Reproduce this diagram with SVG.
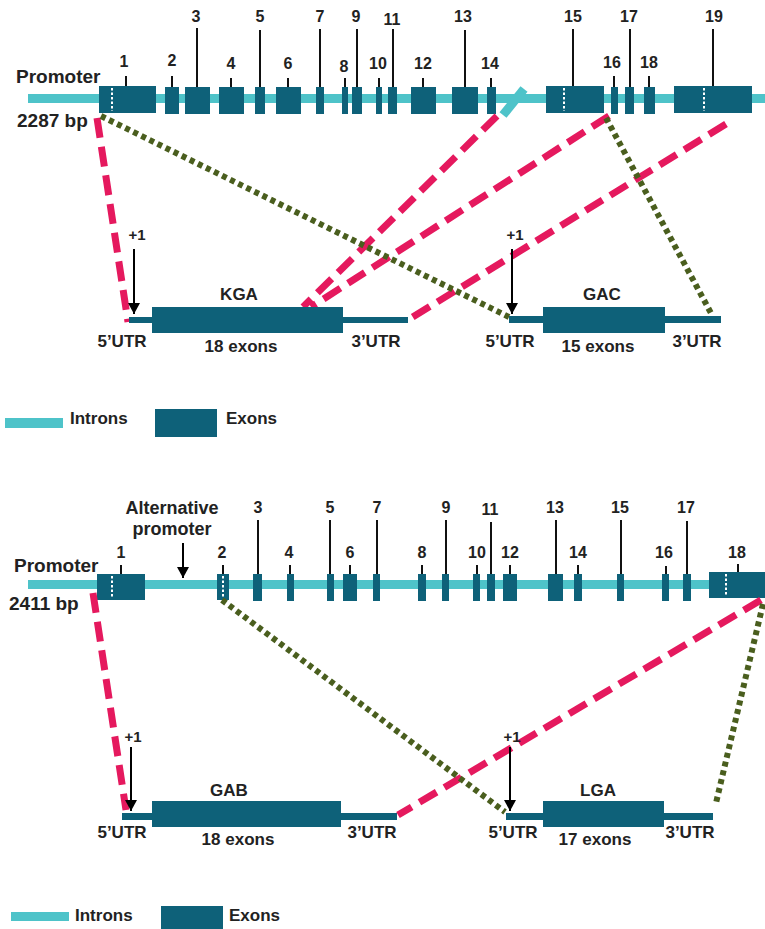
<svg xmlns="http://www.w3.org/2000/svg" width="765" height="929" viewBox="0 0 765 929">
<style>
text{font-family:"Liberation Sans",Arial,sans-serif;font-weight:bold;fill:#222}
.n{font-size:16px;text-anchor:middle}
.t{font-size:17px}
.c{text-anchor:middle}
.intron{fill:#4ec3c9}
.exon{fill:#0e6179}
.tick{stroke:#111;stroke-width:2}
.wd{stroke:#fff;stroke-width:2;stroke-dasharray:2.5 2}
.pink{stroke:#e5195e;stroke-width:7;stroke-dasharray:20 9;fill:none}
.green{stroke:#4a5e1e;stroke-width:6;stroke-dasharray:5 4;fill:none}
.arr{stroke:#000;stroke-width:2}
</style>
<defs>
<marker id="ah" markerWidth="11" markerHeight="12" refX="11" refY="6" orient="auto" markerUnits="userSpaceOnUse" viewBox="0 0 11 12">
<path d="M0,0 L11,6 L0,12 Z" fill="#000"/>
</marker>
</defs>
<rect width="765" height="929" fill="#fff"/>

<!-- ===== Top gene ===== -->
<g id="gene1">
<rect class="intron" x="28" y="94" width="737" height="9"/>
<line x1="503" y1="115" x2="524" y2="89" stroke="#4ec3c9" stroke-width="9"/>
<text class="t" x="16" y="83" style="font-size:19px">Promoter</text>
<text class="t" x="17" y="127" style="font-size:19px">2287 bp</text>
<g id="g1e1"><rect class="exon" x="99" y="86" width="57" height="27"/><line class="wd" x1="112" y1="88" x2="112" y2="111"/><line class="tick" x1="126" y1="76" x2="126" y2="86"/><text class="n" x="124" y="67">1</text></g>
<g id="g1e2"><rect class="exon" x="165" y="87" width="14" height="27"/><line class="tick" x1="172" y1="76" x2="172" y2="87"/><text class="n" x="172" y="66">2</text></g>
<g id="g1e3"><rect class="exon" x="185" y="87" width="25" height="27"/><line class="tick" x1="197" y1="28" x2="197" y2="87"/><text class="n" x="196" y="22">3</text></g>
<g id="g1e4"><rect class="exon" x="219" y="87" width="25" height="27"/><line class="tick" x1="231" y1="78" x2="231" y2="87"/><text class="n" x="231" y="69">4</text></g>
<g id="g1e5"><rect class="exon" x="255" y="87" width="10" height="27"/><line class="tick" x1="260" y1="30" x2="260" y2="87"/><text class="n" x="260" y="22">5</text></g>
<g id="g1e6"><rect class="exon" x="276" y="87" width="25" height="27"/><line class="tick" x1="288" y1="78" x2="288" y2="87"/><text class="n" x="288" y="69">6</text></g>
<g id="g1e7"><rect class="exon" x="316" y="87" width="8" height="27"/><line class="tick" x1="320" y1="29" x2="320" y2="87"/><text class="n" x="320" y="22">7</text></g>
<g id="g1e8"><rect class="exon" x="342" y="87" width="6" height="27"/><line class="tick" x1="345" y1="78" x2="345" y2="87"/><text class="n" x="344" y="72">8</text></g>
<g id="g1e9"><rect class="exon" x="352" y="87" width="10" height="27"/><line class="tick" x1="357" y1="29" x2="357" y2="87"/><text class="n" x="356" y="22">9</text></g>
<g id="g1e10"><rect class="exon" x="376" y="87" width="6" height="27"/><line class="tick" x1="379" y1="78" x2="379" y2="87"/><text class="n" x="378" y="69">10</text></g>
<g id="g1e11"><rect class="exon" x="388" y="87" width="9" height="27"/><line class="tick" x1="393" y1="29" x2="393" y2="87"/><text class="n" x="392" y="25">11</text></g>
<g id="g1e12"><rect class="exon" x="411" y="87" width="25" height="27"/><line class="tick" x1="423" y1="78" x2="423" y2="87"/><text class="n" x="423" y="69">12</text></g>
<g id="g1e13"><rect class="exon" x="452" y="87" width="26" height="27"/><line class="tick" x1="465" y1="30" x2="465" y2="87"/><text class="n" x="463" y="22">13</text></g>
<g id="g1e14"><rect class="exon" x="487" y="87" width="9" height="27"/><line class="tick" x1="491" y1="78" x2="491" y2="87"/><text class="n" x="490" y="69">14</text></g>
<g id="g1e15"><rect class="exon" x="546" y="86" width="58" height="27"/><line class="wd" x1="564" y1="88" x2="564" y2="111"/><line class="tick" x1="573" y1="29" x2="573" y2="86"/><text class="n" x="573" y="22">15</text></g>
<g id="g1e16"><rect class="exon" x="611" y="87" width="7" height="27"/><line class="tick" x1="614" y1="76" x2="614" y2="87"/><text class="n" x="612" y="68">16</text></g>
<g id="g1e17"><rect class="exon" x="625" y="87" width="9" height="27"/><line class="tick" x1="630" y1="29" x2="630" y2="87"/><text class="n" x="629" y="22">17</text></g>
<g id="g1e18"><rect class="exon" x="644" y="87" width="11" height="27"/><line class="tick" x1="649" y1="76" x2="649" y2="87"/><text class="n" x="649" y="68">18</text></g>
<g id="g1e19"><rect class="exon" x="674" y="86" width="78" height="27"/><line class="wd" x1="704" y1="88" x2="704" y2="111"/><line class="tick" x1="713" y1="29" x2="713" y2="86"/><text class="n" x="714" y="22">19</text></g>
</g>

<g id="connectors1">
<line class="pink" x1="97" y1="118" x2="128" y2="322"/>
<line class="pink" x1="497" y1="116" x2="303" y2="307"/>
<line class="pink" x1="609" y1="116" x2="311" y2="307"/>
<line class="pink" x1="726" y1="124" x2="408" y2="320"/>
<line class="green" x1="101" y1="116" x2="509" y2="317"/>
<line class="green" x1="606" y1="118" x2="712" y2="315"/>
</g>

<g id="KGA">
<rect class="exon" x="129" y="317" width="279" height="6"/>
<rect class="exon" x="152" y="307" width="191" height="26"/>
<line class="arr" x1="134" y1="249" x2="134" y2="314" marker-end="url(#ah)"/>
<text class="t c" x="137" y="240" style="font-size:15px">+1</text>
<text class="t c" x="239" y="300">KGA</text>
<text class="t c" x="122" y="347">5’UTR</text>
<text class="t c" x="241" y="352">18 exons</text>
<text class="t c" x="376" y="347">3’UTR</text>
</g>
<g id="GAC">
<rect class="exon" x="509" y="316" width="212" height="7"/>
<rect class="exon" x="543" y="307" width="122" height="26"/>
<line class="arr" x1="512" y1="249" x2="512" y2="314" marker-end="url(#ah)"/>
<text class="t c" x="515" y="240" style="font-size:15px">+1</text>
<text class="t c" x="602" y="300">GAC</text>
<text class="t c" x="510" y="347">5’UTR</text>
<text class="t c" x="598" y="352">15 exons</text>
<text class="t c" x="697" y="347">3’UTR</text>
</g>
<g id="legend1">
<rect class="intron" x="5" y="418" width="58" height="10"/>
<text class="t" x="70" y="424">Introns</text>
<rect class="exon" x="155" y="409" width="62" height="28"/>
<text class="t" x="226" y="424">Exons</text>
</g>

<!-- ===== Bottom gene ===== -->
<g id="gene2">
<rect class="intron" x="28" y="580" width="737" height="9"/>
<text class="t" x="14" y="572" style="font-size:19px">Promoter</text>
<text class="t" x="9" y="610" style="font-size:19px">2411 bp</text>
<g id="altprom">
<text class="t c" x="172" y="514" style="font-size:18px">Alternative</text>
<text class="t c" x="172" y="535" style="font-size:18px">promoter</text>
<line class="arr" x1="183" y1="543" x2="183" y2="578" marker-end="url(#ah)"/>
</g>
<g id="g2e1"><rect class="exon" x="97" y="574" width="48" height="26"/><line class="wd" x1="112" y1="576" x2="112" y2="598"/><line class="tick" x1="121" y1="565" x2="121" y2="574"/><text class="n" x="121" y="558">1</text></g>
<g id="g2e2"><rect class="exon" x="217" y="574" width="12" height="26"/><line class="wd" x1="223" y1="576" x2="223" y2="598"/><line class="tick" x1="223" y1="565" x2="223" y2="574"/><text class="n" x="222" y="558">2</text></g>
<g id="g2e3"><rect class="exon" x="253" y="574" width="9" height="27"/><line class="tick" x1="258" y1="520" x2="258" y2="574"/><text class="n" x="258" y="513">3</text></g>
<g id="g2e4"><rect class="exon" x="287" y="574" width="7" height="27"/><line class="tick" x1="290" y1="565" x2="290" y2="574"/><text class="n" x="289" y="558">4</text></g>
<g id="g2e5"><rect class="exon" x="327" y="574" width="7" height="27"/><line class="tick" x1="330" y1="520" x2="330" y2="574"/><text class="n" x="330" y="513">5</text></g>
<g id="g2e6"><rect class="exon" x="343" y="574" width="14" height="27"/><line class="tick" x1="350" y1="565" x2="350" y2="574"/><text class="n" x="350" y="558">6</text></g>
<g id="g2e7"><rect class="exon" x="373" y="574" width="7" height="27"/><line class="tick" x1="377" y1="520" x2="377" y2="574"/><text class="n" x="377" y="513">7</text></g>
<g id="g2e8"><rect class="exon" x="418" y="574" width="8" height="27"/><line class="tick" x1="422" y1="565" x2="422" y2="574"/><text class="n" x="422" y="558">8</text></g>
<g id="g2e9"><rect class="exon" x="442" y="574" width="7" height="27"/><line class="tick" x1="446" y1="520" x2="446" y2="574"/><text class="n" x="446" y="513">9</text></g>
<g id="g2e10"><rect class="exon" x="473" y="574" width="7" height="27"/><line class="tick" x1="477" y1="565" x2="477" y2="574"/><text class="n" x="477" y="558">10</text></g>
<g id="g2e11"><rect class="exon" x="487" y="574" width="8" height="27"/><line class="tick" x1="491" y1="522" x2="491" y2="574"/><text class="n" x="490" y="515">11</text></g>
<g id="g2e12"><rect class="exon" x="503" y="574" width="14" height="27"/><line class="tick" x1="510" y1="565" x2="510" y2="574"/><text class="n" x="510" y="558">12</text></g>
<g id="g2e13"><rect class="exon" x="548" y="574" width="15" height="27"/><line class="tick" x1="556" y1="520" x2="556" y2="574"/><text class="n" x="555" y="513">13</text></g>
<g id="g2e14"><rect class="exon" x="574" y="574" width="8" height="27"/><line class="tick" x1="578" y1="565" x2="578" y2="574"/><text class="n" x="578" y="558">14</text></g>
<g id="g2e15"><rect class="exon" x="617" y="574" width="7" height="27"/><line class="tick" x1="621" y1="520" x2="621" y2="574"/><text class="n" x="620" y="513">15</text></g>
<g id="g2e16"><rect class="exon" x="662" y="574" width="7" height="27"/><line class="tick" x1="666" y1="566" x2="666" y2="574"/><text class="n" x="664" y="558">16</text></g>
<g id="g2e17"><rect class="exon" x="683" y="574" width="8" height="27"/><line class="tick" x1="687" y1="521" x2="687" y2="574"/><text class="n" x="686" y="513">17</text></g>
<g id="g2e18"><rect class="exon" x="709" y="572" width="56" height="26"/><line class="wd" x1="726" y1="574" x2="726" y2="596"/><line class="tick" x1="738" y1="564" x2="738" y2="572"/><text class="n" x="737" y="558">18</text></g>
</g>

<g id="connectors2">
<line class="pink" x1="93" y1="593" x2="126" y2="810"/>
<line class="pink" x1="761" y1="600" x2="398" y2="815"/>
<line class="green" x1="222" y1="600" x2="505" y2="812"/>
<line class="green" x1="763" y1="604" x2="716" y2="803"/>
</g>

<g id="GAB">
<rect class="exon" x="122" y="813" width="275" height="7"/>
<rect class="exon" x="152" y="801" width="189" height="26"/>
<line class="arr" x1="131" y1="747" x2="131" y2="811" marker-end="url(#ah)"/>
<text class="t c" x="133" y="742" style="font-size:15px">+1</text>
<text class="t c" x="229" y="796">GAB</text>
<text class="t c" x="122" y="838">5’UTR</text>
<text class="t c" x="238" y="845">18 exons</text>
<text class="t c" x="372" y="838">3’UTR</text>
</g>
<g id="LGA">
<rect class="exon" x="506" y="813" width="207" height="7"/>
<rect class="exon" x="543" y="801" width="121" height="26"/>
<line class="arr" x1="510" y1="747" x2="510" y2="811" marker-end="url(#ah)"/>
<text class="t c" x="512" y="742" style="font-size:15px">+1</text>
<text class="t c" x="598" y="796">LGA</text>
<text class="t c" x="513" y="838">5’UTR</text>
<text class="t c" x="595" y="845">17 exons</text>
<text class="t c" x="690" y="838">3’UTR</text>
</g>
<g id="legend2">
<rect class="intron" x="11" y="912" width="58" height="9"/>
<text class="t" x="75" y="921">Introns</text>
<rect class="exon" x="161" y="906" width="62" height="28"/>
<text class="t" x="229" y="921">Exons</text>
</g>
</svg>
